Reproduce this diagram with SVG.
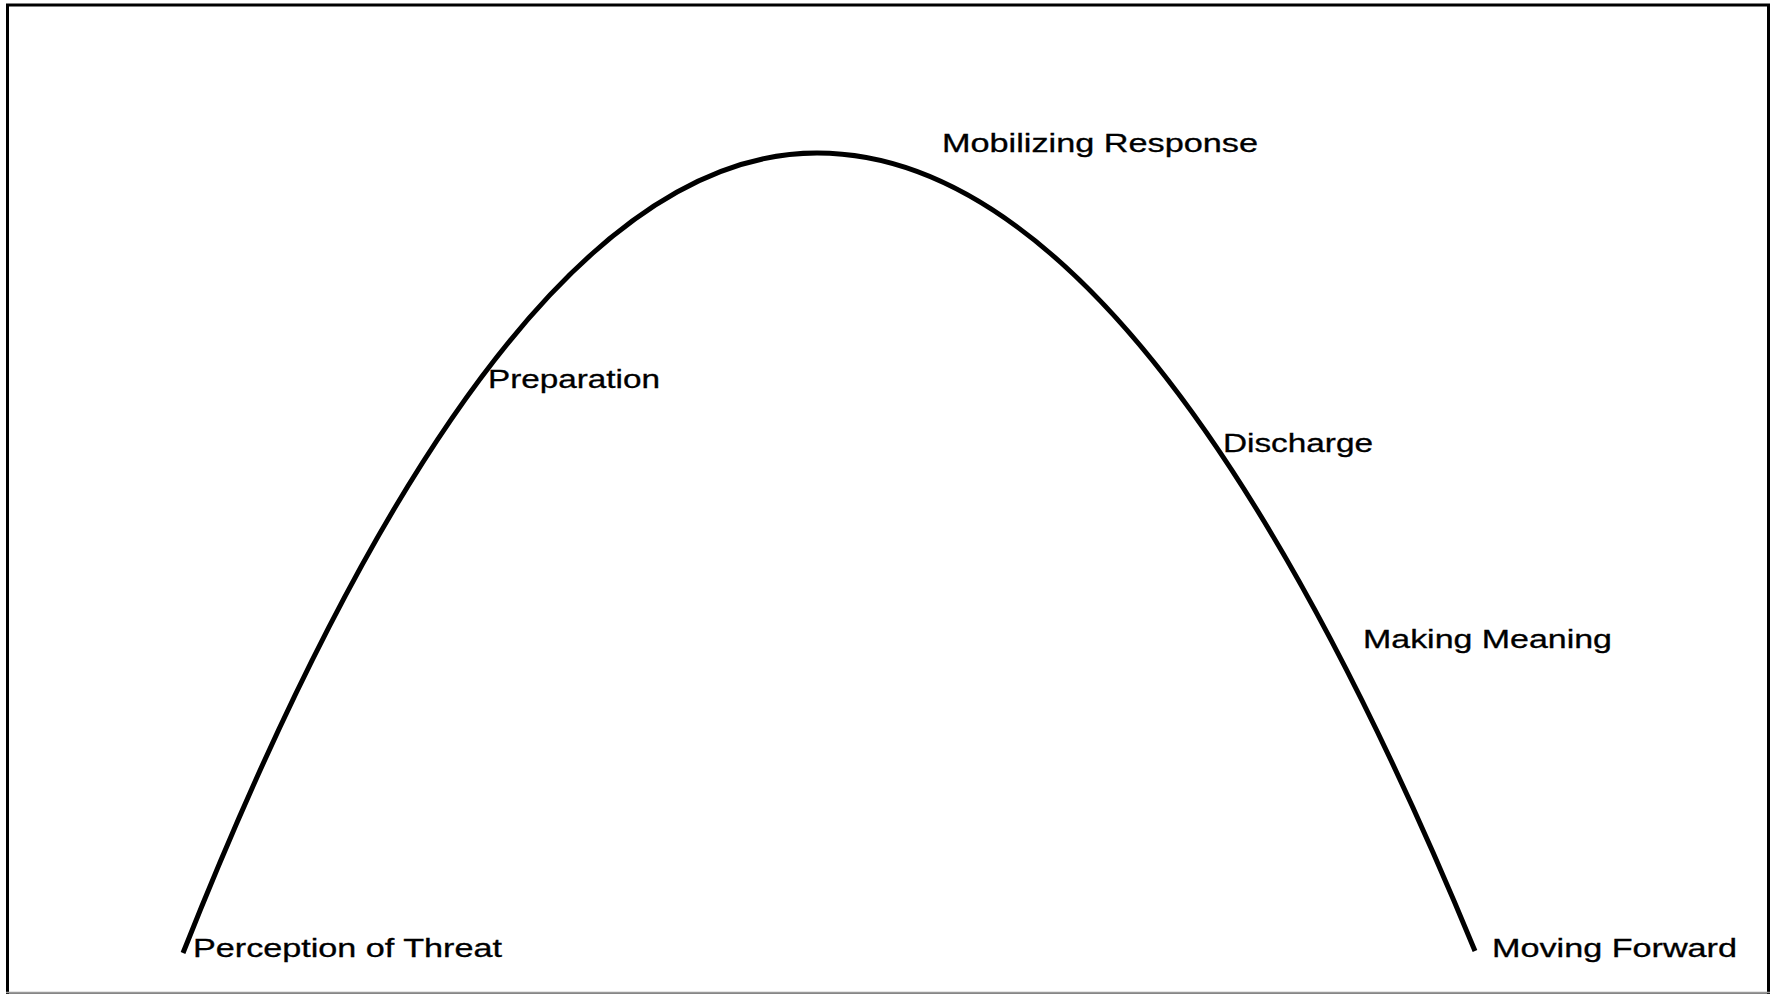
<svg xmlns="http://www.w3.org/2000/svg" width="1787" height="994" viewBox="0 0 1787 994">
<style>
.lbl{font-family:"Liberation Sans",Arial,sans-serif;font-size:25px;fill:#000;stroke:#000;stroke-width:0.3}
.curve{fill:none;stroke:#000;stroke-width:5}
</style>
<rect x="0" y="0" width="1787" height="994" fill="#fff"/>
<rect x="7.5" y="5" width="1761" height="990" fill="none" stroke="#000" stroke-width="3"/>
<line x1="6" y1="992.5" x2="1770" y2="992.5" stroke="#999" stroke-width="1.5"/>
<g id="connectors">
<path class="curve" d="M183,953 Q500,153 817,153 Q1146,153 1475,951"/>
</g>
<g id="perception"><text class="lbl" x="193" y="957" textLength="309" lengthAdjust="spacingAndGlyphs">Perception of Threat</text></g>
<g id="preparation"><text class="lbl" x="488" y="388" textLength="172" lengthAdjust="spacingAndGlyphs">Preparation</text></g>
<g id="mobilizing"><text class="lbl" x="942" y="152" textLength="316" lengthAdjust="spacingAndGlyphs">Mobilizing Response</text></g>
<g id="discharge"><text class="lbl" x="1223" y="452" textLength="150" lengthAdjust="spacingAndGlyphs">Discharge</text></g>
<g id="meaning"><text class="lbl" x="1363" y="648" textLength="249" lengthAdjust="spacingAndGlyphs">Making Meaning</text></g>
<g id="forward"><text class="lbl" x="1492" y="957" textLength="245" lengthAdjust="spacingAndGlyphs">Moving Forward</text></g>
</svg>
